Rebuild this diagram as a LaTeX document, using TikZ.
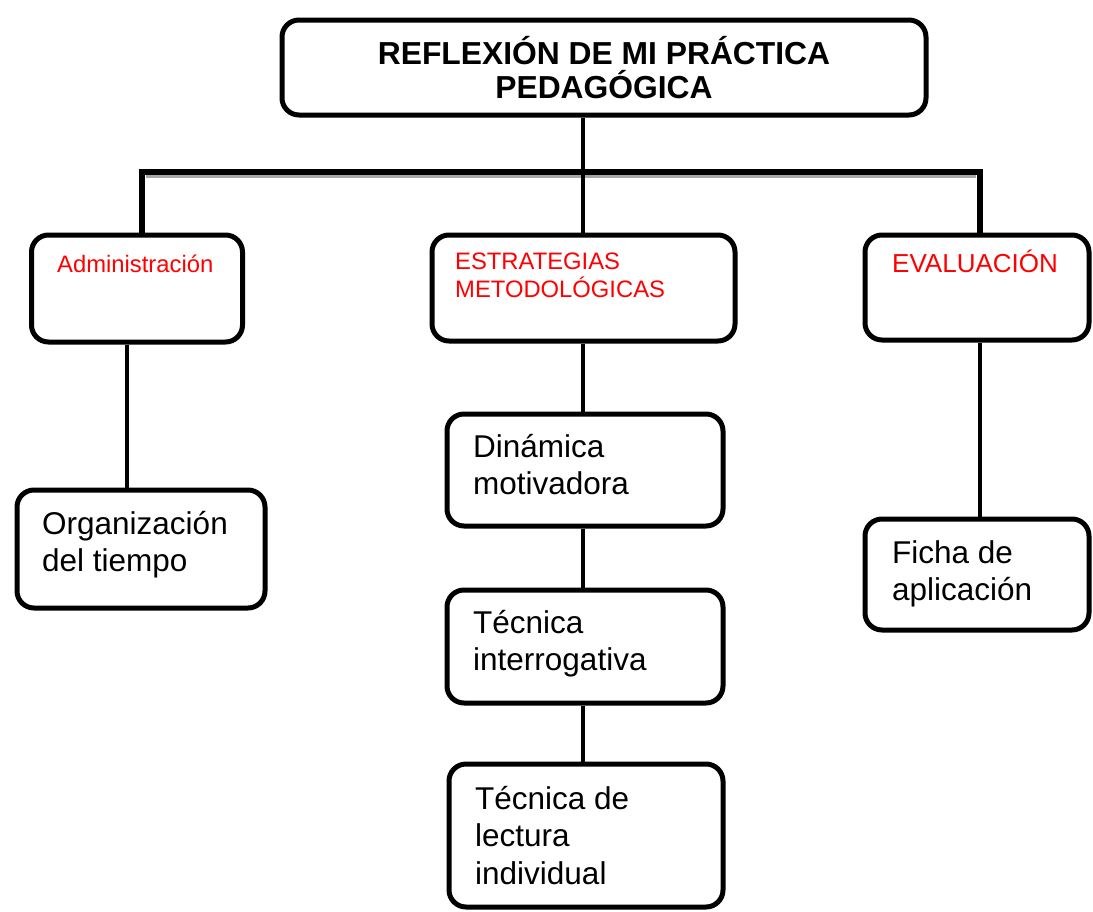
\documentclass[tikz,border=0pt]{standalone}
\usepackage{fontspec}
\setmainfont{Liberation Sans}
\usetikzlibrary{calc}
\definecolor{rfred}{HTML}{FF0000}
\definecolor{rfshade}{HTML}{A6A6A6}

\begin{document}
\begin{tikzpicture}[x=1pt,y=-1pt,
  every node/.style={inner sep=0pt},
  box/.style={draw,line width=5pt,rounded corners=17pt,fill=white},
  tx/.style={anchor=north west,align=left,font=\fontsize{31.5}{37.5}\selectfont},
  rd/.style={anchor=north west,align=left,text=rfred,font=\fontsize{23.8}{28}\selectfont},
  ln/.style={line width=4.5pt}]
\useasboundingbox[fill=white] (0,0) rectangle (1093,911);
\node[box,minimum width=644pt,minimum height=95pt,align=center,
  font=\bfseries\fontsize{31.8}{33.5}\selectfont] (top) at (604,67.5) {REFLEXIÓN DE MI PRÁCTICA\\PEDAGÓGICA};
\node[box,minimum width=211pt,minimum height=107pt] (admin) at (137,288.5) {};
\node[box,minimum width=303pt,minimum height=106pt] (strat) at (583.5,288) {};
\node[box,minimum width=224pt,minimum height=105pt] (eval) at (977,287.5) {};
\node[box,minimum width=248pt,minimum height=118pt] (org) at (141,549) {};
\node[box,minimum width=276pt,minimum height=112pt] (din) at (585,470) {};
\node[box,minimum width=276pt,minimum height=113pt] (tec1) at (585,646.5) {};
\node[box,minimum width=274pt,minimum height=143pt] (tec2) at (586,835.5) {};
\node[box,minimum width=224pt,minimum height=111pt] (ficha) at (977,574.5) {};
\node[rd] (admt) at (57,255) {Administración};
\node[rd] (stratt) at (455,253) {ESTRATEGIAS\\METODOLÓGICAS};
\node[rd,font=\fontsize{26}{30}\selectfont] (evalt) at (892,250) {EVALUACIÓN};
\node[tx] (orgt) at (42,511) {Organización\\del tiempo};
\node[tx] (dint) at (473,434) {Dinámica\\motivadora};
\node[tx] (tec1t) at (473,610) {Técnica\\interrogativa};
\node[tx] (tec2t) at (475,786) {Técnica de\\lectura\\individual};
\node[tx] (fichat) at (892,540) {Ficha de\\aplicación};
\coordinate (jl) at (142,172);
\coordinate (jm) at (583,172);
\coordinate (jr) at (980,172);
\coordinate (jla) at (127,400);
\draw[rfshade,line width=3pt] ($(jl)+(4,4)$) -- ($(jr)+(-4,4)$);
\draw[line width=5.5pt] (admin.north -| jl) -- (jl) -- (jr) -- (eval.north -| jr);
\draw[ln] (top.south -| jm) -- (strat.north -| jm);
\draw[ln] (admin.south -| jla) -- (org.north -| jla);
\draw[ln] (strat.south -| jm) -- (din.north -| jm);
\draw[ln] (din.south -| jm) -- (tec1.north -| jm);
\draw[ln] (tec1.south -| jm) -- (tec2.north -| jm);
\draw[ln] (eval.south -| jr) -- (ficha.north -| jr);
\end{tikzpicture}
\end{document}
